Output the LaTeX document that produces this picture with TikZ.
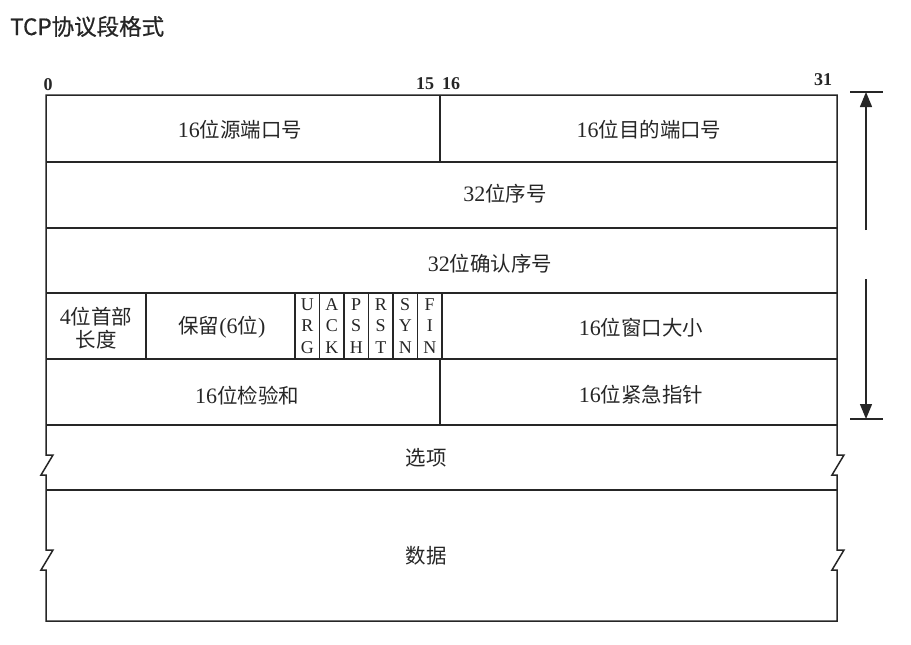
\documentclass[tikz,border=0pt]{standalone}
\usepackage{fontspec}
\setmainfont{Liberation Serif}
\newfontfamily\zhfont[Scale=0.93]{Noto Sans CJK SC}
\newfontfamily\titlefont[FakeBold=0.6]{Noto Sans CJK SC}
\usetikzlibrary{arrows.meta}

\newcommand{\zh}[1]{{\zhfont #1}}

\begin{document}
\begin{tikzpicture}[x=1pt, y=-1pt,
    frame/.style={line width=1.5pt, draw=black!85, line join=miter},
    field/.style={font=\fontsize{22}{23}\selectfont, text=black!85, inner sep=0pt, align=center},
    bitno/.style={font=\fontsize{18}{18}\selectfont\bfseries, text=black!85, inner sep=0pt},
    flagbox/.style={font=\fontsize{18}{21.5}\selectfont, text=black!85, align=center, inner sep=0pt},
    span/.style={line width=1.3pt, draw=black!85}]
        \useasboundingbox (0,0) rectangle (911,645);

        % Title
        \node[anchor=base west, font=\fontsize{22.5}{26}\selectfont\titlefont, text=black!85, inner sep=0pt] (title) at (10,35) {TCP协议段格式};

        % Bit numbers
        \node[bitno] (bit0) at (48,85) {0};
        \node[bitno] (bit15) at (425,84) {15};
        \node[bitno] (bit16) at (451,84) {16};
        \node[bitno] (bit31) at (823,80) {31};

        % Outer frame with the break marks of options and data
        \draw[frame] (46,95) -- (46,455) -- ++(7,0) -- ++(-12,20) -- ++(5,0)
            -- (46,550) -- ++(7,0) -- ++(-12,20) -- ++(5,0)
            -- (46,621) -- (837,621)
            -- (837,570) -- ++(-5,0) -- ++(12,-20) -- ++(-7,0)
            -- (837,475) -- ++(-5,0) -- ++(12,-20) -- ++(-7,0)
            -- (837,95) -- cycle;

        % Row dividers
        \foreach \y in {162,228,293,359,425,490}
            \draw[frame] (46,\y) -- (837,\y);

        % Column dividers
        \draw[frame] (440,95) -- (440,162);
        \draw[frame] (440,359) -- (440,425);
        \draw[frame] (146,293) -- (146,359);
        \foreach \i in {0,...,6}
            \draw[frame] (295+24.5*\i,293) -- (295+24.5*\i,359);

        % Field labels
        \node[field] (srcport) at (240,130) {16\zh{位源端口号}};
        \node[field] (dstport) at (649,130) {16\zh{位目的端口号}};
        \node[field] (seqno) at (505,194) {32\zh{位序号}};
        \node[field] (ackno) at (490,264) {32\zh{位确认序号}};
        \node[field] (hdrlen) at (96,328) {4\zh{位首部}\\\zh{长度}};
        \node[field] (resv) at (222,327) {\zh{保留}(6\zh{位})};
        \node[field] (window) at (641,328) {16\zh{位窗口大小}};
        \node[field] (checksum) at (247,396) {16\zh{位检验和}};
        \node[field] (urgent) at (641,395) {16\zh{位紧急指针}};
        \node[field] (options) at (426,458) {\zh{选项}};
        \node[field] (data) at (426,556) {\zh{数据}};

        % Flag bits
        \foreach \a/\b/\c [count=\i] in {U/R/G,A/C/K,P/S/H,R/S/T,S/Y/N,F/I/N}
            \node[flagbox] (flag\i) at (282.75+24.5*\i,326) {\a\\\b\\\c};

        % Header length marker
        \coordinate (lentop) at (866,92);
        \coordinate (lenbot) at (866,419);
        \coordinate (gaptop) at (866,230);
        \coordinate (gapbot) at (866,279);
        \draw[span] (lentop) ++(-16,0) -- ++(33,0);
        \draw[span] (lenbot) ++(-16,0) -- ++(33,0);
        \draw[span, -{Triangle[width=12pt,length=15pt]}] (gaptop) -- (lentop);
        \draw[span, -{Triangle[width=12pt,length=15pt]}] (gapbot) -- (lenbot);
\end{tikzpicture}
\end{document}
